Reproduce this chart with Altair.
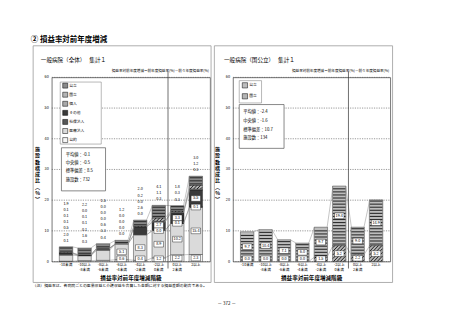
import altair as alt
import pandas as pd
import numpy as np

FONT = "Noto Sans CJK JP"

# ---------------- data ----------------
classes = ["-10未満", "-10以上\n-8未満", "-8以上\n-6未満", "-6以上\n-4未満",
           "-4以上\n-2未満", "-2以上\n0未満", "0以上\n2未満", "2以上"]
n_negative_classes = 6

series_all = ["公立", "国立", "個人", "その他", "社保法人", "医療法人", "公的"]
all_koritsu = [1.9, 2.2, 1.5, 1.2, 2.0, 4.1, 1.8, 3.0]
all_kokuritsu = [0.1, 0.0, 0.0, 0.0, 0.2, 1.1, 0.3, 1.2]
all_kojin = [0.1, 0.1, 0.0, 0.0, 0.0, 0.3, 0.3, 0.3]
all_sonota = [0.1, 0.1, 0.0, 0.0, 2.6, 2.7, 3.3, 5.5]
all_shaho = [0.5, 0.1, 0.6, 0.0, 0.0, 0.0, 0.1, 0.1]
all_iryo = [2.0, 1.6, 3.3, 5.1, 8.3, 8.9, 10.2, 15.4]
all_koteki = [0.1, 0.3, 0.4, 0.6, 0.4, 1.2, 2.2, 2.3]

series_kk = ["公立", "国立"]
kk_koritsu = [9.7, 10.4, 7.1, 6.0, 9.7, 19.4, 9.0, 14.9]
kk_kokuritsu = [0.0, 0.0, 0.0, 0.0, 1.5, 5.2, 2.2, 5.2]

stats_all = ["平均値：-0.1", "中央値：-0.5", "標準偏差：8.5", "施設数：732"]
stats_kk = ["平均値：-2.4", "中央値：-1.6", "標準偏差：10.7", "施設数：134"]

y_ticks = [0, 10, 20, 30, 40, 50, 60]
y_title = "施\n設\n数\n構\n成\n比\n︵\n%\n︶"

vals_all = {"公立": all_koritsu, "国立": all_kokuritsu, "個人": all_kojin,
            "その他": all_sonota, "社保法人": all_shaho, "医療法人": all_iryo,
            "公的": all_koteki}
vals_kk = {"公立": kk_koritsu, "国立": kk_kokuritsu}

colors_all = {"公立": "#8a8a8a", "国立": "#b4b4b4", "個人": "#a9a9a9",
              "その他": "#3a3a3a", "社保法人": "#575757", "医療法人": "#dadada",
              "公的": "#f6f6f6"}
colors_kk = {"公立": "#bdbdbd", "国立": "#b4b4b4"}

# ---------------- layout constants ----------------
W1, W2, H = 159, 158, 185
BAR = 13.5
YMAX = 60


def build_stack(series, values):
    rows = []
    for i in range(len(classes)):
        cum = 0.0
        for s in reversed(series):
            v = values[s][i]
            rows.append(dict(pos=i + 1, series=s, val=v, y0=cum, y1=round(cum + v, 3)))
            cum += v
    return pd.DataFrame(rows)


def build_labels(df, inside_rule):
    rows = []
    for p in sorted(df.pos.unique()):
        sub = df[df.pos == p]
        total = sub.y1.max()
        k = inside_rule(total)
        prev = -10
        for j, r in enumerate(sub.itertuples()):
            t = f"{r.val:.1f}"
            if j < k:
                y = max((r.y0 + r.y1) / 2, 0.9, prev + 1.8)
                prev = y
                rows.append(dict(pos=p, ylab=y, text=t, boxed=True))
            else:
                jj = j - k
                rows.append(dict(pos=p, ylab=total + 2.0 + 2.0 * jj, text=t, boxed=False))
    return pd.DataFrame(rows)


def build_series_lines(df, hw):
    rows = []
    for s in df.series.unique():
        sub = df[df.series == s].sort_values("pos")
        tops = list(sub.y1)
        ps = list(sub.pos)
        for a in range(len(ps) - 1):
            rows.append(dict(xa=ps[a] + hw, xb=ps[a + 1] - hw, ya=tops[a], yb=tops[a + 1]))
    return pd.DataFrame(rows)


def build_stripes(df, series_name, hw):
    rows = []
    sub = df[(df.series == series_name) & (df.val > 0)]
    for r in sub.itertuples():
        for lev in np.arange(r.y0 + 0.5, r.y1 - 0.2, 1.0):
            rows.append(dict(xa=r.pos - hw, xb=r.pos + hw, yy=lev))
    return pd.DataFrame(rows)


def build_hatch(df, series_name, hw, W, gap_px=2.6):
    """Diagonal hatch pattern clipped to each segment (computed in pixel space)."""
    kx = W / len(classes)
    ky = H / YMAX
    rows = []
    sub = df[(df.series == series_name) & (df.val > 0)]
    for r in sub.itertuples():
        xl = (r.pos - hw - 0.5) * kx
        xr = (r.pos + hw - 0.5) * kx
        yb = r.y0 * ky
        yt = r.y1 * ky
        step = gap_px * np.sqrt(2)
        c = yb - xr + step / 2
        while c < yt - xl:
            lo = max(xl, yb - c)
            hi = min(xr, yt - c)
            if hi - lo > 0.2:
                rows.append(dict(xa=lo / kx + 0.5, xb=hi / kx + 0.5,
                                 ya=(lo + c) / ky, yb=(hi + c) / ky))
            c += step
    return pd.DataFrame(rows)


one = pd.DataFrame({"a": [0]})


def txt(text, x, y, size, align="left", weight="normal", baseline="middle"):
    return alt.Chart(one).mark_text(text=text, font=FONT, fontSize=size, align=align,
                                    baseline=baseline, fontWeight=weight, color="#000"
                                    ).encode(x=alt.value(x), y=alt.value(y))


def box(x1, x2, y1, y2, stroke="#777", fill=None, sw=0.7):
    kw = dict(stroke=stroke, strokeWidth=sw)
    kw["fill"] = fill if fill else "transparent"
    return alt.Chart(one).mark_rect(**kw).encode(
        x=alt.value(x1), x2=alt.value(x2), y=alt.value(y1), y2=alt.value(y2))


def panel(series, values, colors, W, inside_rule, ytitle_x, leg, stats, stats_box,
          stats_x, stats_y, stats_step, subtitle, sub_x, frame, extra_decor):
    hw = BAR / 2 / (W / len(classes))
    df = build_stack(series, values)
    lab = build_labels(df, inside_rule)
    sl = build_series_lines(df, hw)
    st = build_stripes(df, "公立", hw)
    ht = build_hatch(df, "国立", hw, W)

    xs = alt.Scale(domain=[0.5, len(classes) + 0.5], nice=False, zero=False)
    ys = alt.Scale(domain=[0, YMAX], nice=False, zero=False)
    fill_scale = alt.Scale(domain=series, range=[colors[s] for s in series])

    layers = []
    # grid + y labels + y title
    tk = pd.DataFrame({"t": y_ticks})
    layers.append(alt.Chart(tk).mark_rule(color="#555", strokeWidth=0.6, strokeDash=[1.2, 1.2]).encode(
        x=alt.value(0), x2=alt.value(W), y=alt.Y("t:Q", scale=ys, axis=None)))
    layers.append(alt.Chart(tk).mark_text(align="right", baseline="middle", fontSize=3.8, font=FONT,
                                          color="#000").encode(
        x=alt.value(-3), y=alt.Y("t:Q", scale=ys, axis=None), text="t:Q"))
    layers.append(alt.Chart(one).mark_text(text=y_title, lineBreak="\n", baseline="top", align="center",
                                           fontSize=5, lineHeight=6.3, fontWeight="bold", font=FONT,
                                           color="#000").encode(
        x=alt.value(ytitle_x), y=alt.value(70)))

    bars = alt.Chart(df[df.val > 0]).mark_bar(size=BAR, stroke="#111", strokeWidth=0.4).encode(
        x=alt.X("pos:Q", scale=xs, axis=None),
        y=alt.Y("y0:Q", scale=ys, axis=None),
        y2="y1:Q",
        fill=alt.Fill("series:N", scale=fill_scale, legend=None),
    )
    layers.append(bars)
    if len(st):
        layers.append(alt.Chart(st).mark_rule(color="#2e2e2e", strokeWidth=1.1).encode(
            x=alt.X("xa:Q", scale=xs, axis=None), x2="xb:Q",
            y=alt.Y("yy:Q", scale=ys, axis=None)))
    if len(ht):
        layers.append(alt.Chart(ht).mark_rule(color="#111", strokeWidth=0.9).encode(
            x=alt.X("xa:Q", scale=xs, axis=None), x2="xb:Q",
            y=alt.Y("ya:Q", scale=ys, axis=None), y2="yb:Q"))
    layers.append(alt.Chart(sl).mark_rule(color="#8c8c8c", strokeWidth=0.5).encode(
        x=alt.X("xa:Q", scale=xs, axis=None), x2="xb:Q",
        y=alt.Y("ya:Q", scale=ys, axis=None), y2="yb:Q"))
    div = pd.DataFrame({"pos": [n_negative_classes + 0.5]})
    layers.append(alt.Chart(div).mark_rule(color="#333", strokeWidth=0.7).encode(
        x=alt.X("pos:Q", scale=xs, axis=None), y=alt.value(-6), y2=alt.value(H + 7)))
    layers.append(alt.Chart(lab[lab.boxed]).mark_point(
        shape="M-1,-0.6L1,-0.6L1,0.6L-1,0.6Z", size=90, filled=True, fill="white",
        stroke="#000", strokeWidth=0.4, opacity=1).encode(
        x=alt.X("pos:Q", scale=xs, axis=None), y=alt.Y("ylab:Q", scale=ys, axis=None)))
    layers.append(alt.Chart(lab).mark_text(fontSize=3.8, font=FONT, color="#000").encode(
        x=alt.X("pos:Q", scale=xs, axis=None), y=alt.Y("ylab:Q", scale=ys, axis=None),
        text="text:N"))
    cls_df = pd.DataFrame({"pos": list(range(1, len(classes) + 1)), "cls": classes})
    layers.append(alt.Chart(cls_df).mark_text(lineBreak="\n", baseline="top", fontSize=3.7,
                                              lineHeight=4.8, font=FONT, color="#000").encode(
        x=alt.X("pos:Q", scale=xs, axis=None), y=alt.value(H + 1.5), text="cls:N"))

    # decorations
    layers += list(extra_decor)
    layers.append(box(*frame, stroke="#9a9a9a", sw=0.8))

    # legend (manual, colours through the same fill scale)
    lb, sym_x, lab_x, y_first, y_last, sym_size = leg
    layers.append(box(*lb, stroke="#888", fill="white", sw=0.6))
    ld = pd.DataFrame({"series": series, "row": list(range(len(series)))})
    rs = alt.Scale(domain=[0, max(len(series) - 1, 1)], range=[y_first, y_last], nice=False, zero=False)
    layers.append(alt.Chart(ld).mark_square(size=sym_size, stroke="#000", strokeWidth=0.5, opacity=1).encode(
        x=alt.value(sym_x), y=alt.Y("row:Q", scale=rs, axis=None),
        fill=alt.Fill("series:N", scale=fill_scale, legend=None)))
    layers.append(alt.Chart(ld).mark_text(align="left", baseline="middle", fontSize=3.8, font=FONT,
                                          color="#000").encode(
        x=alt.value(lab_x), y=alt.Y("row:Q", scale=rs, axis=None), text="series:N"))

    # stats box
    layers.append(box(*stats_box, stroke="#555", fill="white", sw=0.7))
    for i, s in enumerate(stats):
        layers.append(txt(s, stats_x, stats_y + i * stats_step, 4.3))
    layers.append(txt(subtitle, sub_x, -17.7, 5.6))
    layers.append(txt("損益率対前年度増減＝前年度損益率(%)－前々年度損益率(%)", W - 1, -6.7, 3.6,
                      align="right"))
    layers.append(txt("損益率対前年度増減階級", W / 2, 201.3, 5.6, align="center", weight="bold"))
    return alt.layer(*layers).resolve_scale(y="independent").properties(width=W, height=H)


left_decor = [
    box(-51, 402, -76, 244, stroke="transparent", fill="transparent", sw=0),
    txt("② 損益率対前年度増減", -21, -38, 7.5, weight="bold"),
    txt("（注）損益率は、各病院ごとの医業収益と介護収益を合算した金額に対する損益差額の割合である。",
        -19.3, 210, 3.9),
    txt("－ 372 －", 175.7, 227.3, 4.5, align="center"),
]

left = panel(series_all, vals_all, colors_all, W1,
             lambda t: 0 if t < 6 else (2 if t < 15 else 4),
             -14.3, ((8.5, 49.7, 4.7, 67), 13.5, 17.5, 8.3, 63, 25),
             stats_all, (9.7, 54, 70.7, 114), 14, 77.5, 8.5,
             "一般病院（全体）　 集計１", -11, (-18.7, 160, -31.7, 206), left_decor)

right = panel(series_kk, vals_kk, colors_kk, W2, lambda t: 2,
              -15.5, ((6.3, 28.7, 3.3, 25.7), 12, 16.3, 8, 19, 28),
              stats_kk, (6.3, 51.3, 27.3, 71.3), 10.3, 35, 8.8,
              "一般病院（国公立）　 集計１", -9, (-18.7, 160.3, -31.7, 206), [])

chart = alt.HConcatChart(hconcat=[left, right], spacing=23, bounds="flush", padding=0,
                         background="white").resolve_scale(fill="independent", x="independent")
chart = chart.configure_view(stroke="#555", strokeWidth=0.8)

chart.save("out.html", embed_options={"renderer": "svg", "actions": False})
